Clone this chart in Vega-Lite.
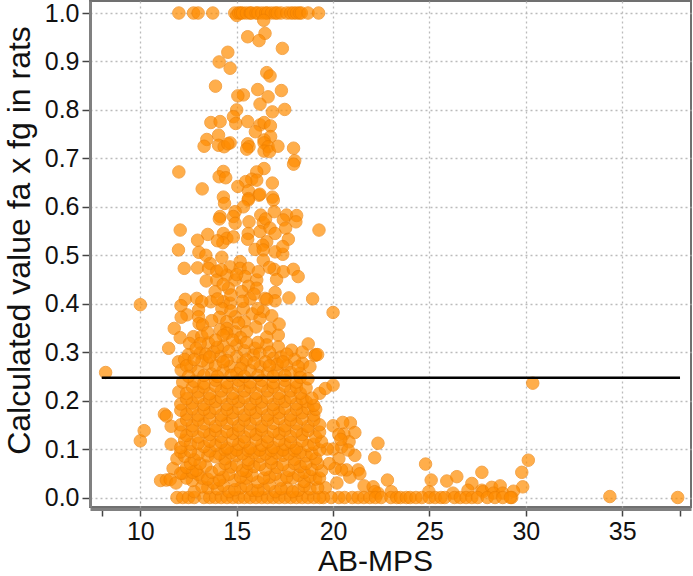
{"$schema":"https://vega.github.io/schema/vega-lite/v6.json","width":601,"height":506,"autosize":"none","padding":{"left":90,"top":1,"right":1,"bottom":69},"background":"white","config":{"view":{"stroke":"#707070","strokeWidth":2},"font":"Liberation Sans"},"layer":[{"data":{"values":[
{"x":12.0,"y":1},{"x":12.76,"y":1},{"x":13.0,"y":1},{"x":13.76,"y":1},{"x":14.9,"y":1},{"x":15.0,"y":0.995},{"x":15.1,"y":1},{"x":15.2,"y":1},{"x":15.3,"y":1},{"x":15.5,"y":1},{"x":15.7,"y":1},{"x":15.75,"y":1},{"x":16.0,"y":1},{"x":16.1,"y":1},{"x":16.3,"y":1},{"x":16.5,"y":1},{"x":16.6,"y":1},{"x":16.8,"y":1},{"x":17.0,"y":1},{"x":17.1,"y":1},{"x":17.3,"y":1},{"x":17.6,"y":1},{"x":17.8,"y":1},{"x":17.95,"y":1},{"x":18.1,"y":1},{"x":18.25,"y":1},{"x":18.35,"y":1},{"x":18.7,"y":1},{"x":19.25,"y":1},
{"x":16.4,"y":0.985},{"x":15.57,"y":0.951},{"x":16.47,"y":0.958},{"x":16.16,"y":0.943},{"x":17.37,"y":0.927},{"x":14.54,"y":0.919},{"x":14.09,"y":0.899},{"x":14.66,"y":0.886},{"x":16.56,"y":0.877},{"x":16.73,"y":0.87},{"x":13.9,"y":0.849},{"x":16.09,"y":0.842},{"x":17.32,"y":0.84},{"x":15.35,"y":0.831},{"x":15.06,"y":0.829},{"x":16.63,"y":0.827},{"x":16.21,"y":0.812},{"x":15.0,"y":0.8},{"x":16.85,"y":0.796},{"x":17.49,"y":0.801},{"x":14.83,"y":0.786},{"x":13.66,"y":0.774},{"x":14.14,"y":0.776},{"x":14.95,"y":0.772},{"x":15.57,"y":0.776},{"x":16.21,"y":0.769},{"x":16.42,"y":0.774},{"x":16.75,"y":0.767},{"x":15.97,"y":0.755},{"x":14.06,"y":0.748},{"x":13.45,"y":0.739},{"x":16.76,"y":0.745},{"x":16.42,"y":0.738},{"x":13.31,"y":0.725},{"x":14.06,"y":0.727},{"x":14.35,"y":0.724},{"x":14.66,"y":0.732},{"x":14.54,"y":0.73},{"x":15.57,"y":0.73},{"x":15.64,"y":0.724},{"x":15.52,"y":0.719},{"x":16.42,"y":0.732},{"x":16.63,"y":0.724},{"x":16.42,"y":0.715},{"x":16.7,"y":0.714},{"x":17.14,"y":0.725},{"x":17.95,"y":0.721},{"x":18.01,"y":0.695},{"x":17.95,"y":0.688},{"x":12.0,"y":0.672},{"x":14.31,"y":0.673},{"x":14.09,"y":0.662},{"x":14.43,"y":0.66},{"x":16.42,"y":0.679},{"x":16.04,"y":0.672},{"x":15.78,"y":0.657},{"x":16.04,"y":0.655},{"x":15.47,"y":0.652},{"x":15.06,"y":0.642},{"x":16.85,"y":0.649},{"x":13.21,"y":0.637},{"x":15.61,"y":0.633},{"x":16.16,"y":0.624},{"x":16.2,"y":0.626},{"x":14.31,"y":0.62},{"x":16.85,"y":0.62},{"x":15.61,"y":0.617},
{"x":14.37,"y":0.607},{"x":15.6,"y":0.614},{"x":16.9,"y":0.614},{"x":15.35,"y":0.6},{"x":14.92,"y":0.59},{"x":14.14,"y":0.58},{"x":14.1,"y":0.575},{"x":14.83,"y":0.58},{"x":16.25,"y":0.583},{"x":16.95,"y":0.59},{"x":17.59,"y":0.583},{"x":18.11,"y":0.582},{"x":14.92,"y":0.566},{"x":15.64,"y":0.569},{"x":16.38,"y":0.567},{"x":16.5,"y":0.575},{"x":17.42,"y":0.573},{"x":18.07,"y":0.569},{"x":12.07,"y":0.552},{"x":19.27,"y":0.552},{"x":13.5,"y":0.543},{"x":12.97,"y":0.531},{"x":14.31,"y":0.545},{"x":14.49,"y":0.535},{"x":14.83,"y":0.538},{"x":15.6,"y":0.545},{"x":16.21,"y":0.549},{"x":16.73,"y":0.556},{"x":16.99,"y":0.545},{"x":17.54,"y":0.556},{"x":17.68,"y":0.533},{"x":14.28,"y":0.526},{"x":15.57,"y":0.533},{"x":16.56,"y":0.528},{"x":16.35,"y":0.521},{"x":11.98,"y":0.511},{"x":13.04,"y":0.506},{"x":15.95,"y":0.512},{"x":16.38,"y":0.511},{"x":16.99,"y":0.507},{"x":17.39,"y":0.502},{"x":17.39,"y":0.518},{"x":14.23,"y":0.496},{"x":16.38,"y":0.49},{"x":12.28,"y":0.473},{"x":12.97,"y":0.474},{"x":13.62,"y":0.483},{"x":13.54,"y":0.473},{"x":13.97,"y":0.467},{"x":14.66,"y":0.476},{"x":15.18,"y":0.487},{"x":15.18,"y":0.473},{"x":15.61,"y":0.473},{"x":16.94,"y":0.471},{"x":17.42,"y":0.466},{"x":17.94,"y":0.471},{"x":18.19,"y":0.456},{"x":17.07,"y":0.45},{"x":13.42,"y":0.447},{"x":13.97,"y":0.449},{"x":14.49,"y":0.459},{"x":14.92,"y":0.449},{"x":15.44,"y":0.456},{"x":16.04,"y":0.449},{"x":16.12,"y":0.466},{"x":13.88,"y":0.425},{"x":14.57,"y":0.432},{"x":14.3,"y":0.44},{"x":15.61,"y":0.436},{"x":16.04,"y":0.432},{"x":15.26,"y":0.425},{"x":16.99,"y":0.423},{"x":16.47,"y":0.411},{"x":15.69,"y":0.41},{"x":17.71,"y":0.412},{"x":18.94,"y":0.41},{"x":12.33,"y":0.409},{"x":12.93,"y":0.411},{"x":13.66,"y":0.404},{"x":13.19,"y":0.404},{"x":12.11,"y":0.396},{"x":10.0,"y":0.398},{"x":14.31,"y":0.404},{"x":14.66,"y":0.401},{"x":16.99,"y":0.406},{"x":16.56,"y":0.409},{"x":20.0,"y":0.382},{"x":13.02,"y":0.387},{"x":14.23,"y":0.39},{"x":15.35,"y":0.39},{"x":16.38,"y":0.384},{"x":13.02,"y":0.373},{"x":12.42,"y":0.377},{"x":12.12,"y":0.372},{"x":14.11,"y":0.372},{"x":14.92,"y":0.373},{"x":15.81,"y":0.379},{"x":16.82,"y":0.375},{"x":16.21,"y":0.37},{"x":13.05,"y":0.359},{"x":14.49,"y":0.363},{"x":15.4,"y":0.363},{"x":16.73,"y":0.349},{"x":13.23,"y":0.356},{"x":11.76,"y":0.349},{"x":14.49,"y":0.349},{"x":14.14,"y":0.346},{"x":15.52,"y":0.342},{"x":14.92,"y":0.342},{"x":14.49,"y":0.339},{"x":17.16,"y":0.335},{"x":16.56,"y":0.331},{"x":12.07,"y":0.33},{"x":12.76,"y":0.332},{"x":13.19,"y":0.333},{"x":18.71,"y":0.317},{"x":11.47,"y":0.308},{"x":12.55,"y":0.318},{"x":13.54,"y":0.319},{"x":13.11,"y":0.318},{"x":14.31,"y":0.313},{"x":15.0,"y":0.315},{"x":15.95,"y":0.308},{"x":16.56,"y":0.315},{"x":17.16,"y":0.311},{"x":17.85,"y":0.304},{"x":19.06,"y":0.293},{"x":19.1,"y":0.295},
{"x":11.98,"y":0.28},{"x":12.12,"y":0.263},{"x":12.62,"y":0.27},{"x":13.5,"y":0.277},{"x":13.11,"y":0.298},{"x":14.14,"y":0.291},{"x":14.66,"y":0.27},{"x":15.31,"y":0.277},{"x":16.21,"y":0.27},{"x":17.59,"y":0.273},{"x":18.42,"y":0.277},{"x":18.28,"y":0.256},{"x":16.9,"y":0.287},{"x":15.87,"y":0.294},{"x":15.0,"y":0.291},{"x":12.5,"y":0.295},{"x":13.8,"y":0.3},{"x":14.6,"y":0.302},{"x":17.3,"y":0.29},{"x":18.0,"y":0.285},{"x":12.3,"y":0.285},{"x":13.0,"y":0.26},{"x":13.7,"y":0.255},{"x":14.3,"y":0.262},{"x":15.0,"y":0.256},{"x":15.7,"y":0.262},{"x":16.6,"y":0.257},{"x":17.1,"y":0.262},{"x":17.8,"y":0.258},
{"x":12.9,"y":0.308},{"x":13.4,"y":0.296},{"x":14.0,"y":0.31},{"x":15.4,"y":0.303},{"x":16.2,"y":0.298},{"x":16.7,"y":0.3},{"x":17.6,"y":0.296},{"x":12.4,"y":0.272},{"x":13.2,"y":0.282},{"x":13.9,"y":0.272},{"x":14.5,"y":0.283},{"x":15.5,"y":0.284},{"x":16.5,"y":0.28},{"x":17.1,"y":0.275},{"x":18.2,"y":0.27},{"x":14.3,"y":0.335},{"x":13.5,"y":0.34},{"x":15.2,"y":0.33},{"x":16.0,"y":0.352},{"x":17.2,"y":0.358},{"x":15.3,"y":0.405},{"x":14.0,"y":0.41},{"x":14.7,"y":0.418},{"x":15.0,"y":0.46},{"x":14.2,"y":0.47},{"x":15.9,"y":0.42},{"x":13.4,"y":0.5},{"x":14.0,"y":0.53},{"x":16.7,"y":0.475},{"x":16.1,"y":0.39},{"x":14.7,"y":0.385},{"x":13.7,"y":0.365},{"x":15.1,"y":0.36},
{"x":12.8,"y":0.285},{"x":13.6,"y":0.29},{"x":14.3,"y":0.28},{"x":15.2,"y":0.266},{"x":15.9,"y":0.278},{"x":16.7,"y":0.272},{"x":17.4,"y":0.28},{"x":18.4,"y":0.3},{"x":18.8,"y":0.27},{"x":16.1,"y":0.32},{"x":15.5,"y":0.32},{"x":13.9,"y":0.325},{"x":14.8,"y":0.325},
{"x":8.2,"y":0.258},{"x":10.0,"y":0.117},{"x":10.2,"y":0.138},{"x":30.36,"y":0.236},{"x":30.13,"y":0.077},{"x":20.9,"y":0.154},{"x":21.13,"y":0.134},{"x":20.56,"y":0.131},{"x":20.83,"y":0.115},{"x":22.33,"y":0.112},{"x":22.16,"y":0.082},{"x":21.13,"y":0.087},{"x":20.44,"y":0.104},{"x":20.78,"y":0.098},{"x":24.8,"y":0.069},{"x":25.09,"y":0.036},{"x":25.9,"y":0.034},{"x":26.42,"y":0.043},{"x":27.72,"y":0.052},{"x":29.79,"y":0.052},{"x":29.84,"y":0.022},{"x":22.82,"y":0.036},{"x":21.3,"y":0.057},{"x":21.39,"y":0.049},{"x":20.87,"y":0.042},{"x":20.7,"y":0.057},{"x":20.44,"y":0.057},{"x":21.61,"y":0.024},{"x":22.08,"y":0.022},{"x":23.02,"y":0.012},{"x":22.33,"y":0.009},{"x":22.16,"y":0.012},{"x":27.2,"y":0.029},{"x":27.0,"y":0.015},{"x":27.72,"y":0.015},{"x":27.77,"y":0.012},{"x":28.23,"y":0.021},{"x":28.67,"y":0.024},{"x":28.32,"y":0.009},{"x":28.8,"y":0.009},{"x":29.36,"y":0.013},{"x":29.27,"y":0.0},{"x":24.97,"y":0.012},{"x":26.22,"y":0.009},{"x":34.36,"y":0.002},{"x":37.88,"y":0.0},
{"x":19.2,"y":0.295},{"x":19.3,"y":0.215},{"x":19.6,"y":0.225},{"x":20.0,"y":0.232},{"x":20.0,"y":0.148},{"x":20.3,"y":0.13},{"x":20.0,"y":0.1},{"x":20.3,"y":0.08},{"x":20.1,"y":0.06},{"x":19.7,"y":0.1},{"x":19.8,"y":0.07},{"x":20.4,"y":0.12},{"x":20.5,"y":0.155},{"x":20.3,"y":0.0},{"x":19.9,"y":0.0},{"x":19.6,"y":0.02},{"x":19.5,"y":0.0},{"x":20.2,"y":0.03},
{"x":20.6,"y":0},{"x":21.0,"y":0},{"x":21.3,"y":0},{"x":21.6,"y":0},{"x":21.9,"y":0},{"x":22.2,"y":0},{"x":22.5,"y":0},{"x":23.0,"y":0},{"x":23.3,"y":0},{"x":23.5,"y":0},{"x":23.8,"y":0},{"x":24.0,"y":0},{"x":24.3,"y":0},{"x":24.6,"y":0},{"x":25.0,"y":0},{"x":25.3,"y":0},{"x":25.6,"y":0},{"x":25.8,"y":0},{"x":26.3,"y":0},{"x":26.6,"y":0},{"x":26.9,"y":0},{"x":27.2,"y":0},{"x":27.5,"y":0},{"x":28.0,"y":0},{"x":28.4,"y":0},{"x":28.8,"y":0},{"x":29.2,"y":0},
{"x":11.9,"y":0},{"x":12.2,"y":0},{"x":12.5,"y":0},{"x":12.8,"y":0},{"x":13.3,"y":0},{"x":13.6,"y":0},{"x":13.9,"y":0},{"x":14.2,"y":0},{"x":14.5,"y":0},{"x":14.8,"y":0},{"x":15.1,"y":0},{"x":15.4,"y":0},{"x":15.7,"y":0},{"x":16.0,"y":0},{"x":16.3,"y":0},{"x":16.6,"y":0},{"x":16.9,"y":0},{"x":17.2,"y":0},{"x":17.5,"y":0},{"x":17.8,"y":0},{"x":18.1,"y":0},{"x":18.4,"y":0},{"x":18.7,"y":0},{"x":19.0,"y":0},{"x":19.3,"y":0},
{"x":12.8,"y":0.012},{"x":13.5,"y":0.02},{"x":14.0,"y":0.018},{"x":14.6,"y":0.012},{"x":15.2,"y":0.02},{"x":15.8,"y":0.015},{"x":16.4,"y":0.018},{"x":17.0,"y":0.012},{"x":17.6,"y":0.02},{"x":18.2,"y":0.015},{"x":18.8,"y":0.018},{"x":13.2,"y":0.022},{"x":14.3,"y":0.025},{"x":14.9,"y":0.016},{"x":15.5,"y":0.024},{"x":16.1,"y":0.014},{"x":16.7,"y":0.026},{"x":17.3,"y":0.018},{"x":17.9,"y":0.012},{"x":18.5,"y":0.024},{"x":19.2,"y":0.02},
{"x":11.05,"y":0.035},{"x":11.35,"y":0.036},{"x":11.55,"y":0.037},{"x":11.85,"y":0.03},{"x":12.7,"y":0.035},{"x":13.2,"y":0.04},{"x":13.8,"y":0.03},{"x":14.3,"y":0.042},{"x":14.9,"y":0.035},{"x":15.5,"y":0.04},{"x":16.1,"y":0.032},{"x":16.7,"y":0.042},{"x":17.3,"y":0.036},{"x":17.9,"y":0.04},{"x":18.5,"y":0.033},{"x":19.1,"y":0.038},{"x":12.4,"y":0.04},{"x":13.0,"y":0.048},{"x":13.5,"y":0.038},{"x":14.1,"y":0.036},{"x":14.6,"y":0.048},{"x":15.2,"y":0.042},{"x":15.8,"y":0.046},{"x":16.4,"y":0.04},{"x":17.0,"y":0.048},{"x":17.6,"y":0.042},{"x":18.2,"y":0.046},{"x":18.8,"y":0.044},{"x":12.2,"y":0.05},{"x":12.7,"y":0.052},{"x":13.7,"y":0.052},{"x":15.5,"y":0.054},{"x":18.5,"y":0.052},{"x":19.3,"y":0.04},
{"x":11.7,"y":0.06},{"x":12.1,"y":0.05},{"x":12.4,"y":0.062},{"x":12.9,"y":0.056},{"x":13.4,"y":0.065},{"x":14.1,"y":0.058},{"x":14.7,"y":0.063},{"x":15.3,"y":0.056},{"x":15.9,"y":0.064},{"x":16.5,"y":0.058},{"x":17.1,"y":0.062},{"x":17.7,"y":0.056},{"x":18.3,"y":0.064},{"x":18.9,"y":0.058},{"x":19.4,"y":0.055},{"x":12.6,"y":0.07},{"x":13.1,"y":0.07},{"x":14.4,"y":0.07},{"x":15.0,"y":0.067},{"x":15.6,"y":0.07},{"x":16.2,"y":0.068},{"x":16.8,"y":0.071},{"x":17.4,"y":0.068},{"x":18.0,"y":0.07},{"x":18.6,"y":0.07},{"x":19.2,"y":0.07},
{"x":11.9,"y":0.08},{"x":12.3,"y":0.085},{"x":12.8,"y":0.078},{"x":13.5,"y":0.086},{"x":14.4,"y":0.08},{"x":15.0,"y":0.087},{"x":15.6,"y":0.078},{"x":16.2,"y":0.085},{"x":16.8,"y":0.08},{"x":17.4,"y":0.087},{"x":18.0,"y":0.079},{"x":18.6,"y":0.086},{"x":19.1,"y":0.08},{"x":13.0,"y":0.09},{"x":13.9,"y":0.084},{"x":14.1,"y":0.09},{"x":14.7,"y":0.092},{"x":15.3,"y":0.09},{"x":15.9,"y":0.092},{"x":16.5,"y":0.09},{"x":17.1,"y":0.092},{"x":17.7,"y":0.09},{"x":18.3,"y":0.093},{"x":18.9,"y":0.091},{"x":12.1,"y":0.094},{"x":12.6,"y":0.095},{"x":13.6,"y":0.096},{"x":14.4,"y":0.098},{"x":15.0,"y":0.098},{"x":15.6,"y":0.097},{"x":16.2,"y":0.098},{"x":16.8,"y":0.097},{"x":17.4,"y":0.098},{"x":18.0,"y":0.097},{"x":19.3,"y":0.098},
{"x":11.6,"y":0.11},{"x":12.1,"y":0.103},{"x":12.6,"y":0.11},{"x":13.3,"y":0.105},{"x":13.9,"y":0.108},{"x":14.5,"y":0.102},{"x":15.1,"y":0.11},{"x":15.7,"y":0.102},{"x":16.3,"y":0.108},{"x":16.9,"y":0.103},{"x":17.5,"y":0.11},{"x":18.1,"y":0.102},{"x":18.7,"y":0.107},{"x":12.3,"y":0.118},{"x":13.0,"y":0.112},{"x":13.6,"y":0.116},{"x":14.2,"y":0.114},{"x":14.8,"y":0.118},{"x":15.4,"y":0.115},{"x":16.0,"y":0.119},{"x":16.6,"y":0.115},{"x":17.2,"y":0.118},{"x":17.8,"y":0.114},{"x":18.4,"y":0.117},{"x":19.0,"y":0.11},{"x":19.4,"y":0.115},
{"x":12.4,"y":0.128},{"x":13.0,"y":0.125},{"x":13.6,"y":0.13},{"x":14.2,"y":0.126},{"x":14.8,"y":0.132},{"x":15.4,"y":0.125},{"x":16.0,"y":0.13},{"x":16.6,"y":0.125},{"x":17.2,"y":0.132},{"x":17.8,"y":0.126},{"x":18.4,"y":0.13},{"x":19.1,"y":0.125},{"x":12.1,"y":0.135},{"x":12.7,"y":0.138},{"x":13.3,"y":0.136},{"x":13.9,"y":0.138},{"x":14.5,"y":0.136},{"x":15.1,"y":0.139},{"x":15.7,"y":0.137},{"x":16.3,"y":0.139},{"x":16.9,"y":0.136},{"x":17.5,"y":0.139},{"x":18.1,"y":0.137},{"x":18.7,"y":0.138},{"x":19.3,"y":0.135},
{"x":11.6,"y":0.147},{"x":12.1,"y":0.15},{"x":12.7,"y":0.148},{"x":13.3,"y":0.152},{"x":13.9,"y":0.147},{"x":14.5,"y":0.153},{"x":15.1,"y":0.148},{"x":15.7,"y":0.152},{"x":16.3,"y":0.147},{"x":16.9,"y":0.153},{"x":17.5,"y":0.148},{"x":18.1,"y":0.152},{"x":18.7,"y":0.147},{"x":19.3,"y":0.15},{"x":12.4,"y":0.16},{"x":13.0,"y":0.16},{"x":13.6,"y":0.162},{"x":14.2,"y":0.16},{"x":14.8,"y":0.162},{"x":15.4,"y":0.16},{"x":16.0,"y":0.162},{"x":16.6,"y":0.16},{"x":17.2,"y":0.163},{"x":17.8,"y":0.16},{"x":18.4,"y":0.162},{"x":19.0,"y":0.16},
{"x":11.25,"y":0.172},{"x":11.35,"y":0.168},{"x":12.4,"y":0.172},{"x":13.0,"y":0.17},{"x":13.6,"y":0.175},{"x":14.2,"y":0.17},{"x":14.8,"y":0.175},{"x":15.4,"y":0.17},{"x":16.0,"y":0.175},{"x":16.6,"y":0.17},{"x":17.2,"y":0.175},{"x":17.8,"y":0.17},{"x":18.4,"y":0.175},{"x":19.0,"y":0.17},{"x":12.1,"y":0.18},{"x":12.7,"y":0.183},{"x":13.3,"y":0.182},{"x":13.9,"y":0.184},{"x":14.5,"y":0.182},{"x":15.1,"y":0.184},{"x":15.7,"y":0.182},{"x":16.3,"y":0.184},{"x":16.9,"y":0.182},{"x":17.5,"y":0.184},{"x":18.1,"y":0.182},{"x":18.7,"y":0.184},{"x":19.1,"y":0.182},
{"x":12.1,"y":0.193},{"x":12.7,"y":0.195},{"x":13.3,"y":0.192},{"x":13.9,"y":0.198},{"x":14.5,"y":0.192},{"x":15.1,"y":0.198},{"x":15.7,"y":0.193},{"x":16.3,"y":0.197},{"x":16.9,"y":0.192},{"x":17.5,"y":0.198},{"x":18.1,"y":0.193},{"x":18.6,"y":0.198},{"x":19.0,"y":0.19},{"x":12.4,"y":0.204},{"x":13.0,"y":0.206},{"x":13.6,"y":0.204},{"x":14.2,"y":0.206},{"x":14.8,"y":0.204},{"x":15.4,"y":0.206},{"x":16.0,"y":0.204},{"x":16.6,"y":0.206},{"x":17.2,"y":0.204},{"x":17.8,"y":0.206},{"x":18.4,"y":0.204},{"x":18.9,"y":0.205},
{"x":12.0,"y":0.218},{"x":12.4,"y":0.215},{"x":13.0,"y":0.218},{"x":13.6,"y":0.214},{"x":14.2,"y":0.22},{"x":14.8,"y":0.215},{"x":15.4,"y":0.22},{"x":16.0,"y":0.215},{"x":16.6,"y":0.22},{"x":17.2,"y":0.215},{"x":17.8,"y":0.22},{"x":18.3,"y":0.215},{"x":12.7,"y":0.228},{"x":13.3,"y":0.228},{"x":13.9,"y":0.23},{"x":14.5,"y":0.228},{"x":15.1,"y":0.23},{"x":15.7,"y":0.228},{"x":16.3,"y":0.23},{"x":16.9,"y":0.228},{"x":17.5,"y":0.23},{"x":18.1,"y":0.228},{"x":18.6,"y":0.226},
{"x":12.2,"y":0.238},{"x":12.8,"y":0.24},{"x":13.3,"y":0.236},{"x":13.9,"y":0.242},{"x":14.5,"y":0.237},{"x":15.1,"y":0.242},{"x":15.7,"y":0.238},{"x":16.3,"y":0.242},{"x":16.9,"y":0.237},{"x":17.5,"y":0.242},{"x":18.1,"y":0.238},{"x":12.5,"y":0.25},{"x":13.3,"y":0.252},{"x":14.0,"y":0.25},{"x":14.7,"y":0.252},{"x":15.4,"y":0.25},{"x":16.1,"y":0.252},{"x":16.9,"y":0.25},{"x":17.5,"y":0.252},{"x":18.3,"y":0.248},{"x":18.7,"y":0.245}
]},"mark":{"type":"circle","size":155,"color":"#ff8c00","opacity":0.7,"stroke":"#f08000","strokeWidth":1},"encoding":{"x":{"field":"x","type":"quantitative","scale":{"domain":[7.39,38.57],"nice":false,"zero":false},"axis":{"values":[8,10,15,20,25,30,35,38],"labelExpr":"datum.value==8||datum.value==38?'':datum.label","format":"d","title":"AB-MPS","titleFontSize":30,"titleColor":"#111","titleFontWeight":"normal","titleFont":"Liberation Sans","titlePadding":2,"titleX":285,"labelFontSize":25,"labelFont":"Liberation Sans","labelColor":"#111","labelPadding":3,"offset":2,"domainColor":"#808080","domainWidth":3,"tickColor":"#444","tickWidth":1.5,"tickSize":7,"grid":true,"gridColor":"#bbbbbb","gridDash":[2,3],"gridWidth":1.3,"gridOpacity":{"condition":{"test":"datum.value==8||datum.value==38","value":0},"value":1}}},"y":{"field":"y","type":"quantitative","scale":{"domain":[-0.0196,1.0248],"nice":false,"zero":false},"axis":{"values":[0,0.1,0.2,0.3,0.4,0.5,0.6,0.7,0.8,0.9,1.0],"format":".1f","title":"Calculated value fa x fg in rats","titleFontSize":32,"titleColor":"#111","titleFontWeight":"normal","titleFont":"Liberation Sans","titlePadding":8,"titleY":239,"labelFontSize":25,"labelFont":"Liberation Sans","labelColor":"#111","labelPadding":3,"domainColor":"#808080","domainWidth":3,"tickColor":"#444","tickWidth":1.5,"tickSize":8,"grid":true,"gridColor":"#bbbbbb","gridDash":[2,3],"gridWidth":1.3}}}},{"data":{"values":[{"x":8,"x2":38,"y":0.247}]},"mark":{"type":"rule","color":"#000","strokeWidth":2.5},"encoding":{"x":{"field":"x","type":"quantitative"},"x2":{"field":"x2"},"y":{"field":"y","type":"quantitative"}}}]}
